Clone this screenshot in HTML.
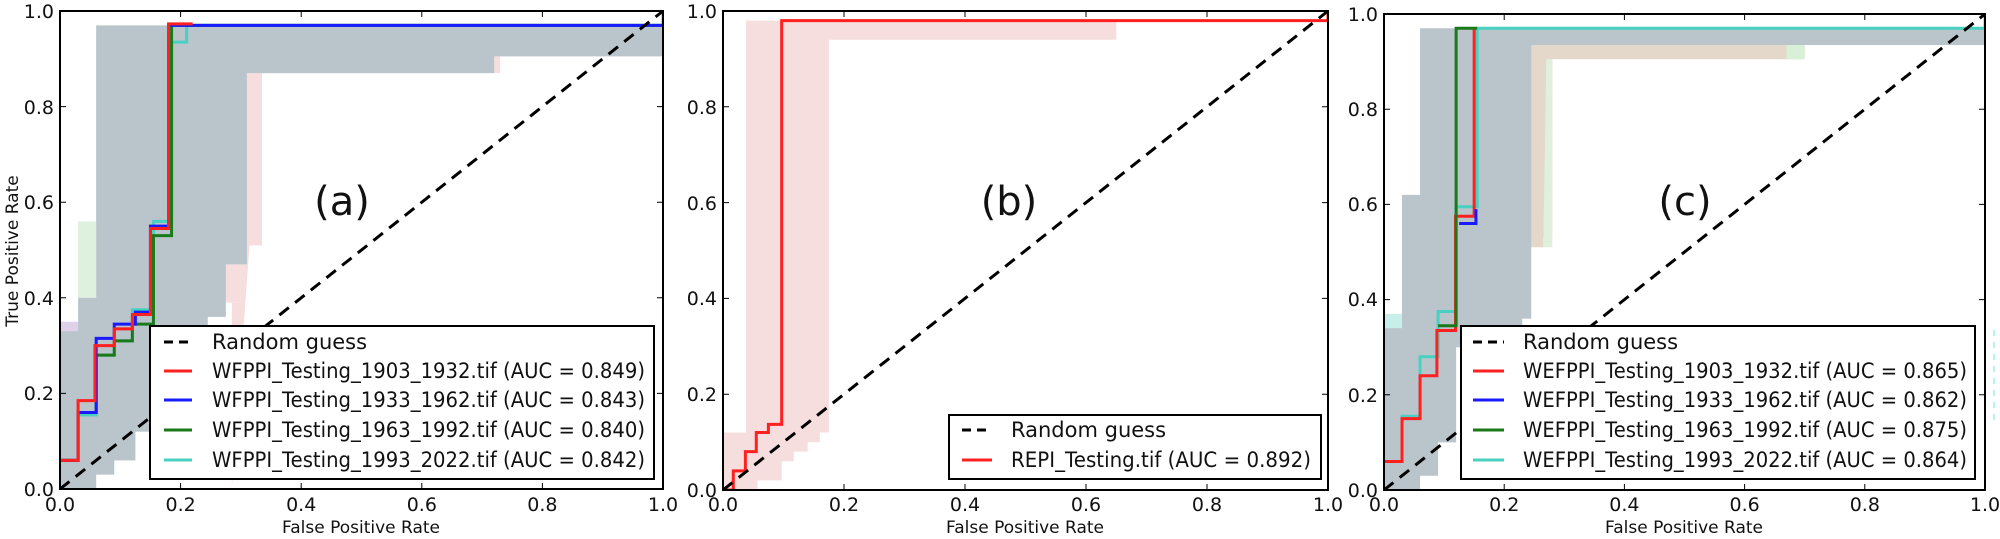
<!DOCTYPE html>
<html><head><meta charset="utf-8"><style>
html,body{margin:0;padding:0;background:#fff;}
svg{display:block;font-family:"DejaVu Sans","Liberation Sans",sans-serif;}
.t{font-size:19px;fill:#111;}
.lg{font-size:21px;fill:#111;}
.ln{fill:none;stroke-width:3;vector-effect:non-scaling-stroke;stroke-linejoin:miter;}
</style></head><body>
<svg width="2000" height="539" viewBox="0 0 2000 539">
<!-- ===== Panel A ===== -->
<svg x="60" y="11" width="603" height="478" viewBox="0 0 1 1" preserveAspectRatio="none">
<g transform="translate(0,1) scale(1,-1)">
<path d="M0 0.31 H0.03 V0.35 H0 Z" fill="#d8c6e6" opacity="0.8"/>
<path d="M0.03 0.40 H0.06 V0.56 H0.03 Z" fill="#d6ecd6" opacity="0.8"/>
<path d="M0.285 0 V0.39 H0.30 V0.51 H0.335 V0.87 H0.73 V0.905 H0.335 V0.87 Z" fill="#f6dede"/>
<path d="M0.27 0.39 H0.30 V0.51 H0.335 V0.87 H0.31 V0.47 H0.275 Z" fill="#f6dede"/>
<path d="M0 0 V0.33 H0.03 V0.40 H0.06 V0.97 H1 V0.905 H0.72 V0.87 H0.31 V0.47 H0.275 V0.36 H0.245 V0.34 H0.16 V0.12 H0.125 V0.06 H0.09 V0.03 H0.06 V0 Z" fill="#b9c4cb"/>
<path class="ln" stroke="#48d1c0" d="M0 0.06 H0.03 V0.155 H0.06 V0.28 H0.09 V0.31 H0.12 V0.375 H0.155 V0.56 H0.185 V0.935 H0.21 V0.97 H1 V1"/>
<path class="ln" stroke="#1a7a1a" d="M0 0.06 H0.03 V0.16 H0.06 V0.28 H0.09 V0.31 H0.12 V0.345 H0.155 V0.53 H0.185 V0.97 H1"/>
<path class="ln" stroke="#1a1aff" d="M0 0.06 H0.03 V0.16 H0.06 V0.315 H0.09 V0.345 H0.125 V0.37 H0.15 V0.55 H0.18 V0.97 H1"/>
<path class="ln" stroke="#ff2020" d="M0 0.06 H0.03 V0.185 H0.058 V0.30 H0.09 V0.335 H0.12 V0.365 H0.15 V0.545 H0.18 V0.973 H0.22"/>
</g></svg>
<line x1="60" y1="489" x2="663" y2="11" stroke="#000" stroke-width="3" stroke-dasharray="12,8"/>
<rect x="60" y="11" width="603" height="478" fill="none" stroke="#000" stroke-width="2"/>
<g stroke="#000" stroke-width="1">
<path d="M180.6 489v-6M301.2 489v-6M421.8 489v-6M542.4 489v-6M180.6 11v6M301.2 11v6M421.8 11v6M542.4 11v6M60 393.4h6M60 297.8h6M60 202.2h6M60 106.6h6M663 393.4h-6M663 297.8h-6M663 202.2h-6M663 106.6h-6"/>
</g>
<g class="t" text-anchor="end">
<text x="54" y="496">0.0</text><text x="54" y="400">0.2</text><text x="54" y="305">0.4</text><text x="54" y="209">0.6</text><text x="54" y="114">0.8</text><text x="54" y="18">1.0</text>
</g>
<g class="t" text-anchor="middle">
<text x="60" y="511">0.0</text><text x="180.6" y="511">0.2</text><text x="301.2" y="511">0.4</text><text x="421.8" y="511">0.6</text><text x="542.4" y="511">0.8</text><text x="663" y="511">1.0</text>
<text x="361" y="533" style="font-size:17px">False Positive Rate</text>
<text transform="translate(18,251) rotate(-90)" style="font-size:17px">True Positive Rate</text>
<text x="342" y="215" style="font-size:40px">(a)</text>
</g>
<rect x="150" y="326" width="504" height="153" fill="#fff" stroke="#000" stroke-width="2"/>
<line x1="164" y1="342" x2="192" y2="342" stroke="#000" stroke-width="3" stroke-dasharray="9,6"/>
<line x1="164" y1="371" x2="192" y2="371" stroke="#ff2020" stroke-width="3"/>
<line x1="164" y1="400" x2="192" y2="400" stroke="#1a1aff" stroke-width="3"/>
<line x1="164" y1="430" x2="192" y2="430" stroke="#1a7a1a" stroke-width="3"/>
<line x1="164" y1="460" x2="192" y2="460" stroke="#48d1c0" stroke-width="3"/>
<g class="lg">
<text x="212" y="349">Random guess</text>
<text x="212" y="378" textLength="433" lengthAdjust="spacingAndGlyphs">WFPPI_Testing_1903_1932.tif (AUC = 0.849)</text>
<text x="212" y="407" textLength="433" lengthAdjust="spacingAndGlyphs">WFPPI_Testing_1933_1962.tif (AUC = 0.843)</text>
<text x="212" y="437" textLength="433" lengthAdjust="spacingAndGlyphs">WFPPI_Testing_1963_1992.tif (AUC = 0.840)</text>
<text x="212" y="467" textLength="433" lengthAdjust="spacingAndGlyphs">WFPPI_Testing_1993_2022.tif (AUC = 0.842)</text>
</g>

<!-- ===== Panel B ===== -->
<svg x="723" y="11" width="605" height="479" viewBox="0 0 1 1" preserveAspectRatio="none">
<g transform="translate(0,1) scale(1,-1)">
<path d="M0 0 V0.12 H0.038 V0.98 H0.65 V0.94 H0.175 V0.12 H0.16 V0.10 H0.14 V0.08 H0.117 V0.06 H0.097 V0.02 H0.057 V0 Z" fill="#f7dede"/>
<path class="ln" stroke="#ff2020" d="M0 0 H0.017 V0.04 H0.037 V0.08 H0.055 V0.12 H0.075 V0.137 H0.097 V0.98 H1 V1"/>
</g></svg>
<line x1="723" y1="490" x2="1328" y2="11" stroke="#000" stroke-width="3" stroke-dasharray="12,8"/>
<rect x="723" y="11" width="605" height="479" fill="none" stroke="#000" stroke-width="2"/>
<g stroke="#000" stroke-width="1">
<path d="M844 490v-6M965 490v-6M1086 490v-6M1207 490v-6M844 11v6M965 11v6M1086 11v6M1207 11v6M723 394.2h6M723 298.4h6M723 202.6h6M723 106.8h6M1328 394.2h-6M1328 298.4h-6M1328 202.6h-6M1328 106.8h-6"/>
</g>
<g class="t" text-anchor="end">
<text x="717" y="497">0.0</text><text x="717" y="401">0.2</text><text x="717" y="305">0.4</text><text x="717" y="210">0.6</text><text x="717" y="114">0.8</text><text x="717" y="18">1.0</text>
</g>
<g class="t" text-anchor="middle">
<text x="723" y="511">0.0</text><text x="844" y="511">0.2</text><text x="965" y="511">0.4</text><text x="1086" y="511">0.6</text><text x="1207" y="511">0.8</text><text x="1328" y="511">1.0</text>
<text x="1025" y="533" style="font-size:17px">False Positive Rate</text>
<text x="1009" y="215" style="font-size:40px">(b)</text>
</g>
<rect x="949" y="415" width="372" height="64" fill="#fff" stroke="#000" stroke-width="2"/>
<line x1="962" y1="430" x2="992" y2="430" stroke="#000" stroke-width="3" stroke-dasharray="9,6"/>
<line x1="962" y1="460" x2="992" y2="460" stroke="#ff2020" stroke-width="3"/>
<g class="lg">
<text x="1011" y="437">Random guess</text>
<text x="1011" y="467" textLength="300" lengthAdjust="spacingAndGlyphs">REPI_Testing.tif (AUC = 0.892)</text>
</g>

<!-- ===== Panel C ===== -->
<svg x="1384" y="14" width="601" height="476" viewBox="0 0 1 1" preserveAspectRatio="none">
<g transform="translate(0,1) scale(1,-1)">
<path d="M0 0.34 H0.03 V0.37 H0 Z" fill="#c8eeea"/>
<path d="M0.244 0.51 V0.936 H0.70 V0.905 H0.28 V0.53 H0.265 V0.51 Z" fill="#e4d8cb"/>
<path d="M0.67 0.905 H0.70 V0.936 H0.67 Z" fill="#d8efd8"/>
<path d="M0.265 0.51 H0.28 V0.905 H0.27 Z" fill="#dff0dc"/>
<path d="M0 0 V0.34 H0.03 V0.62 H0.06 V0.97 H1 V0.935 H0.245 V0.36 H0.23 V0.30 H0.12 V0.10 H0.09 V0.03 H0.06 V0 Z" fill="#b9c4cb"/>
<path class="ln" stroke="#48d1c0" d="M0 0.06 H0.03 V0.155 H0.06 V0.28 H0.09 V0.375 H0.12 V0.595 H0.155 V0.97 H1 V1"/>
<path class="ln" stroke="#ff2020" d="M0 0.06 H0.03 V0.15 H0.06 V0.24 H0.088 V0.335 H0.119 V0.575 H0.15 V0.97"/>
<path class="ln" stroke="#1a1aff" d="M0.125 0.56 H0.153 V0.59"/>
<path class="ln" stroke="#1a7a1a" d="M0.09 0.345 H0.12 V0.97 H0.155"/>
</g></svg>
<line x1="1384" y1="490" x2="1985" y2="14" stroke="#000" stroke-width="3" stroke-dasharray="12,8"/>
<rect x="1384" y="14" width="601" height="476" fill="none" stroke="#000" stroke-width="2"/>
<g stroke="#000" stroke-width="1">
<path d="M1504.2 490v-6M1624.4 490v-6M1744.6 490v-6M1864.8 490v-6M1504.2 14v6M1624.4 14v6M1744.6 14v6M1864.8 14v6M1384 394.8h6M1384 299.6h6M1384 204.4h6M1384 109.2h6M1985 394.8h-6M1985 299.6h-6M1985 204.4h-6M1985 109.2h-6"/>
</g>
<g class="t" text-anchor="end">
<text x="1378" y="497">0.0</text><text x="1378" y="402">0.2</text><text x="1378" y="306">0.4</text><text x="1378" y="211">0.6</text><text x="1378" y="116">0.8</text><text x="1378" y="21">1.0</text>
</g>
<g class="t" text-anchor="middle">
<text x="1384" y="511">0.0</text><text x="1504.2" y="511">0.2</text><text x="1624.4" y="511">0.4</text><text x="1744.6" y="511">0.6</text><text x="1864.8" y="511">0.8</text><text x="1985" y="511">1.0</text>
<text x="1684" y="533" style="font-size:17px">False Positive Rate</text>
<text x="1685" y="215" style="font-size:40px">(c)</text>
</g>
<rect x="1461" y="326" width="514" height="153" fill="#fff" stroke="#000" stroke-width="2"/>
<line x1="1473" y1="342" x2="1504" y2="342" stroke="#000" stroke-width="3" stroke-dasharray="9,6"/>
<line x1="1473" y1="371" x2="1504" y2="371" stroke="#ff2020" stroke-width="3"/>
<line x1="1473" y1="400" x2="1504" y2="400" stroke="#1a1aff" stroke-width="3"/>
<line x1="1473" y1="430" x2="1504" y2="430" stroke="#1a7a1a" stroke-width="3"/>
<line x1="1473" y1="460" x2="1504" y2="460" stroke="#48d1c0" stroke-width="3"/>
<g class="lg">
<text x="1523" y="349">Random guess</text>
<text x="1523" y="378" textLength="444" lengthAdjust="spacingAndGlyphs">WEFPPI_Testing_1903_1932.tif (AUC = 0.865)</text>
<text x="1523" y="407" textLength="444" lengthAdjust="spacingAndGlyphs">WEFPPI_Testing_1933_1962.tif (AUC = 0.862)</text>
<text x="1523" y="437" textLength="444" lengthAdjust="spacingAndGlyphs">WEFPPI_Testing_1963_1992.tif (AUC = 0.875)</text>
<text x="1523" y="467" textLength="444" lengthAdjust="spacingAndGlyphs">WEFPPI_Testing_1993_2022.tif (AUC = 0.864)</text>
</g>
<line x1="1994" y1="330" x2="1994" y2="420" stroke="#9ef0f0" stroke-width="1.5" stroke-dasharray="6,6"/>
</svg>
</body></html>
